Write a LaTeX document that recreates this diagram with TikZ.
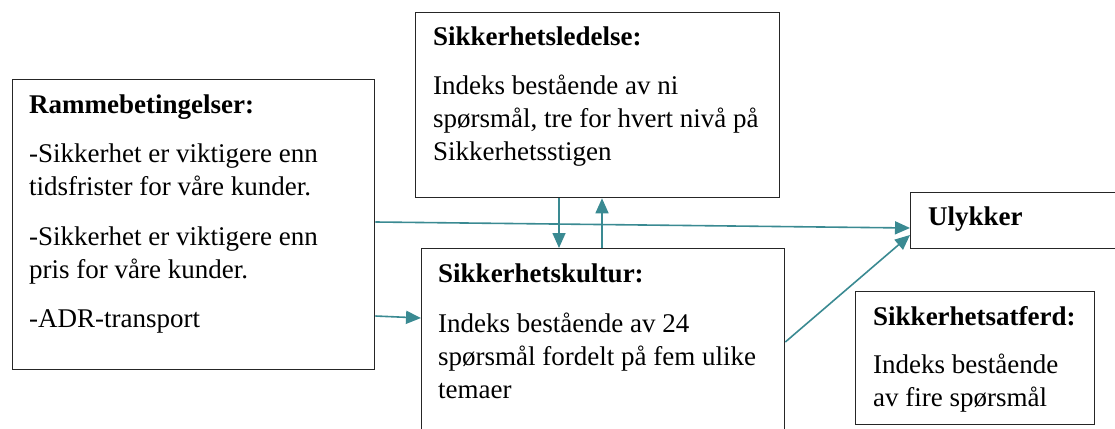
\documentclass[tikz,border=0pt]{standalone}
\usepackage{fontspec}
\setmainfont{Liberation Serif}
\usetikzlibrary{arrows.meta}
\definecolor{pilfarge}{RGB}{58,138,146}

\begin{document}
\begin{tikzpicture}[x=1pt,y=-1pt,font=\fontsize{27}{33}\selectfont,>={Triangle[length=15pt,width=13pt]}]
\tikzset{boks/.style={draw=black!85,line width=1.3pt,inner sep=0pt,anchor=north west},
  tekst/.style={anchor=north west,yshift=23.1pt,inner sep=0pt,align=left},
  pil/.style={->,draw=pilfarge,fill=pilfarge,line width=1.6pt}}
\useasboundingbox (0,0) rectangle (1115,428);

\node[boks,minimum width=362pt,minimum height=290pt] (ramme) at (12,79) {};
\node[boks,minimum width=364pt,minimum height=185pt] (ledelse) at (415,12) {};
\node[boks,minimum width=363pt,minimum height=200pt] (kultur) at (421,248) {};
\node[boks,minimum width=215pt,minimum height=56pt] (ulykker) at (910,192) {};
\node[boks,minimum width=239pt,minimum height=133pt] (atferd) at (855,291) {};

\node[tekst] (rammetekst) at (29,113) {\strut\textbf{Rammebetingelser:}\\[16pt]
  -Sikkerhet er viktigere enn\\ tidsfrister for våre kunder.\\[17pt]
  -Sikkerhet er viktigere enn\\ pris for våre kunder.\\[16pt]
  -ADR-transport};
\node[tekst] (ledelsetekst) at (433,45) {\strut\textbf{Sikkerhetsledelse:}\\[16pt]
  Indeks bestående av ni\\ spørsmål, tre for hvert nivå på\\ Sikkerhetsstigen};
\node[tekst] (kulturtekst) at (438,282) {\strut\textbf{Sikkerhetskultur:}\\[17pt]
  Indeks bestående av 24\\ spørsmål fordelt på fem ulike\\ temaer};
\node[tekst] (ulykkertekst) at (928,225) {\strut\textbf{Ulykker}};
\node[tekst] (atferdtekst) at (873,325) {\strut\textbf{Sikkerhetsatferd:}\\[15pt]
  Indeks bestående\\ av fire spørsmål};

\draw[pil] (ramme.east |- 0,222) -- (ulykker.west |- 0,228);
\draw[pil] (ramme.east |- 0,316) -- (kultur.west |- 0,318);
\draw[pil] (ledelse.south -| 559,0) -- (kultur.north -| 559,0);
\draw[pil] (kultur.north -| 602,0) -- (ledelse.south -| 602,0);
\draw[pil] (kultur.east |- 0,342) -- (ulykker.west |- 0,235);
\end{tikzpicture}
\end{document}
